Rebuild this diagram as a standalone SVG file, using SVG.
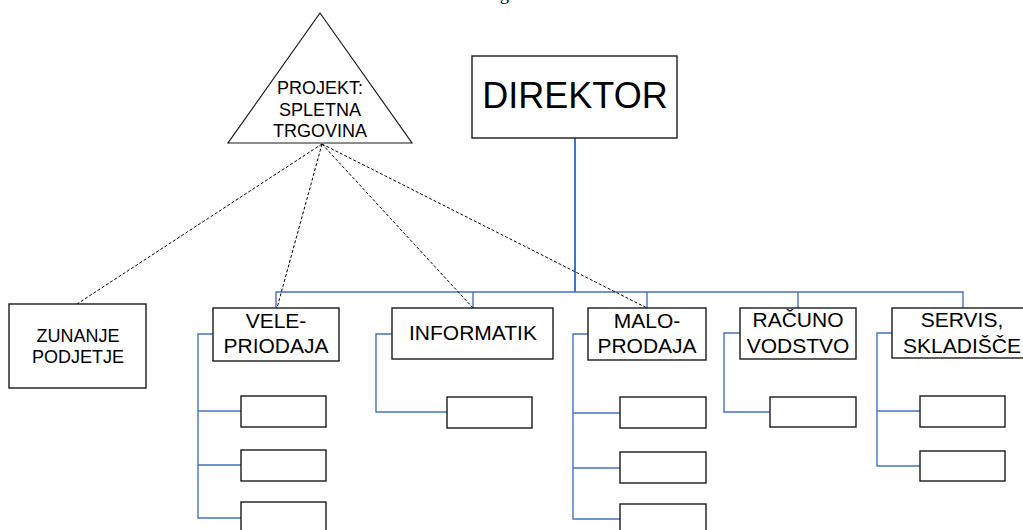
<svg xmlns="http://www.w3.org/2000/svg" width="1023" height="530" viewBox="0 0 1023 530">
  <style>
    .box { fill: #ffffff; stroke: #1a1a1a; stroke-width: 1.4; }
    .lbl { font-family: "Liberation Sans", Arial, sans-serif; fill: #000000; text-anchor: middle; }
    .org { fill: none; stroke: #4472C4; stroke-width: 1.4; }
    .proj { fill: none; stroke: #000000; stroke-width: 1; stroke-dasharray: 3 2; }
  </style>
  <rect x="0" y="0" width="1023" height="530" fill="#ffffff"/>

  <!-- caption cut off by the top edge -->
  <text x="500" y="0" style="font-family: 'Liberation Serif', 'Times New Roman', serif; font-size: 18px;" fill="#000">g</text>

  <!-- connectors -->
  <g id="connectors">
    <!-- director trunk and bus -->
    <line class="org" x1="575" y1="138" x2="575" y2="292" style="stroke-width:2"/>
    <polyline class="org" points="276,308 276,292 963,292 963,308"/>
    <line class="org" x1="473" y1="292" x2="473" y2="308"/>
    <line class="org" x1="647" y1="292" x2="647" y2="308"/>
    <line class="org" x1="798" y1="292" x2="798" y2="308"/>

    <!-- VELE-PRIODAJA branch -->
    <polyline class="org" points="213,334 198,334 198,518 241,518"/>
    <line class="org" x1="198" y1="411" x2="241" y2="411"/>
    <line class="org" x1="198" y1="465" x2="241" y2="465"/>

    <!-- INFORMATIK branch -->
    <polyline class="org" points="392,334 376,334 376,412 447,412"/>

    <!-- MALO-PRODAJA branch -->
    <polyline class="org" points="588,334 573,334 573,519 620,519"/>
    <line class="org" x1="573" y1="413" x2="620" y2="413"/>
    <line class="org" x1="573" y1="468" x2="620" y2="468"/>

    <!-- RAČUNO VODSTVO branch -->
    <polyline class="org" points="740,333 724,333 724,412 770,412"/>

    <!-- SERVIS, SKLADIŠČE branch -->
    <polyline class="org" points="892,333 877,333 877,466 920,466"/>
    <line class="org" x1="877" y1="411" x2="920" y2="411"/>

    <!-- project links -->
    <line class="proj" x1="322" y1="144" x2="77" y2="304"/>
    <line class="proj" x1="322" y1="144" x2="277" y2="308"/>
    <line class="proj" x1="322" y1="144" x2="473" y2="308"/>
    <line class="proj" x1="322" y1="144" x2="647" y2="308"/>
  </g>

  <g id="projekt">
    <polygon class="box" points="320,13 412,143 228,143" style="stroke-width:1.2"/>
    <text class="lbl" x="320" y="94" font-size="18">PROJEKT:</text>
    <text class="lbl" x="320" y="116" font-size="18">SPLETNA</text>
    <text class="lbl" x="320" y="137" font-size="18">TRGOVINA</text>
  </g>

  <g id="direktor">
    <rect class="box" x="472" y="56" width="205" height="82"/>
    <text class="lbl" x="575" y="108" font-size="36">DIREKTOR</text>
  </g>

  <g id="zunanje">
    <rect class="box" x="9" y="304" width="137" height="84"/>
    <text class="lbl" x="78" y="342" font-size="18">ZUNANJE</text>
    <text class="lbl" x="78" y="363" font-size="18">PODJETJE</text>
  </g>

  <g id="veleprodaja">
    <rect class="box" x="213" y="308" width="126" height="53"/>
    <text class="lbl" x="276" y="328" font-size="21">VELE-</text>
    <text class="lbl" x="276" y="353" font-size="21">PRIODAJA</text>
  </g>
  <g id="vele-1"><rect class="box" x="241" y="396" width="85" height="31"/></g>
  <g id="vele-2"><rect class="box" x="241" y="450" width="85" height="31"/></g>
  <g id="vele-3"><rect class="box" x="241" y="502" width="85" height="31"/></g>

  <g id="informatik">
    <rect class="box" x="392" y="308" width="161" height="51"/>
    <text class="lbl" x="473" y="340" font-size="21">INFORMATIK</text>
  </g>
  <g id="informatik-1"><rect class="box" x="447" y="397" width="85" height="31"/></g>

  <g id="maloprodaja">
    <rect class="box" x="588" y="308" width="118" height="52"/>
    <text class="lbl" x="647" y="328" font-size="21">MALO-</text>
    <text class="lbl" x="647" y="353" font-size="21">PRODAJA</text>
  </g>
  <g id="malo-1"><rect class="box" x="620" y="397" width="86" height="31"/></g>
  <g id="malo-2"><rect class="box" x="620" y="452" width="86" height="31"/></g>
  <g id="malo-3"><rect class="box" x="620" y="504" width="86" height="31"/></g>

  <g id="racunovodstvo">
    <rect class="box" x="740" y="308" width="116" height="51"/>
    <text class="lbl" x="798" y="327" font-size="21">RAČUNO</text>
    <text class="lbl" x="798" y="353" font-size="21">VODSTVO</text>
  </g>
  <g id="racuno-1"><rect class="box" x="770" y="397" width="86" height="30"/></g>

  <g id="servis">
    <rect class="box" x="892" y="308" width="142" height="50"/>
    <text class="lbl" x="962" y="327" font-size="21">SERVIS,</text>
    <text class="lbl" x="962" y="353" font-size="21">SKLADIŠČE</text>
  </g>
  <g id="servis-1"><rect class="box" x="920" y="396" width="85" height="31"/></g>
  <g id="servis-2"><rect class="box" x="920" y="451" width="85" height="30"/></g>
</svg>
